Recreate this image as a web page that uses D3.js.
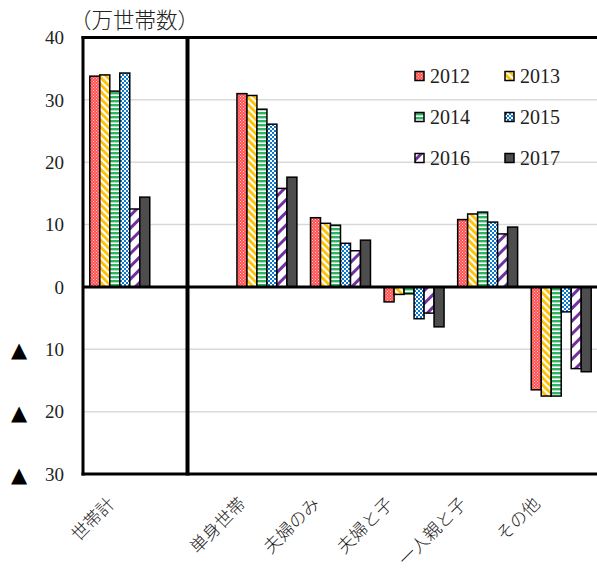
<!DOCTYPE html>
<html>
<head>
<meta charset="utf-8">
<script src="https://cdn.jsdelivr.net/npm/d3@7"></script>
<style>
  html, body { margin: 0; padding: 0; background: #fff; }
  svg { display: block; }
</style>
</head>
<body>
<svg id="chart" width="597" height="579"></svg>
<script>
// Household change by type (10,000 households), 2012-2017
const categories = ["世帯計", "単身世帯", "夫婦のみ", "夫婦と子", "一人親と子", "その他"];
const years = ["2012", "2013", "2014", "2015", "2016", "2017"];
const v2012 = [33.8, 31.0, 11.1, -2.4, 10.8, -16.5];
const v2013 = [34.0, 30.7, 10.2, -1.2, 11.7, -17.5];
const v2014 = [31.4, 28.5, 9.9, -1.1, 12.0, -17.5];
const v2015 = [34.3, 26.1, 7.0, -5.1, 10.4, -4.0];
const v2016 = [12.5, 15.8, 5.8, -4.2, 8.5, -13.1];
const v2017 = [14.4, 17.6, 7.5, -6.4, 9.6, -13.6];
const yTicks = [-30, -20, -10, 0, 10, 20, 30, 40];
const unitLabel = "（万世帯数）";

const series = [v2012, v2013, v2014, v2015, v2016, v2017];

const svg = d3.select("#chart");
const plot = { left: 83, right: 598, top: 37.5, bottom: 474 };

// Category slots: a spacer slot separates the total from the breakdown
const slots = [categories[0], "__spacer", ...categories.slice(1)];
const x = d3.scaleBand().domain(slots).range([plot.left, plot.right]).padding(0);
const groupW = x.step() * 0.815;
const xi = d3.scaleBand().domain(years).range([0, groupW]).padding(0);
const y = d3.scaleLinear().domain([-30, 40]).range([plot.bottom, plot.top]);

// Fill patterns
const defs = svg.append("defs");
function pat(id, w, h, transform) {
  const p = defs.append("pattern").attr("id", id)
    .attr("patternUnits", "userSpaceOnUse").attr("width", w).attr("height", h);
  if (transform) p.attr("patternTransform", transform);
  return p;
}
// 2012: small red check
let p = pat("p2012", 3, 3);
p.append("rect").attr("width", 3).attr("height", 3).attr("fill", "#ff4f4f");
p.append("rect").attr("width", 1).attr("height", 1).attr("fill", "#ffd0d0");
p.append("rect").attr("x", 1.5).attr("y", 1.5).attr("width", 1).attr("height", 1).attr("fill", "#ffd0d0");
// 2013: yellow downward diagonal
p = pat("p2013", 5, 5, "rotate(-45)");
p.append("rect").attr("width", 5).attr("height", 5).attr("fill", "#fff");
p.append("rect").attr("width", 2.8).attr("height", 5).attr("fill", "#ffc000");
// 2014: green horizontal stripes
p = pat("p2014", 4, 4);
p.append("rect").attr("width", 4).attr("height", 4).attr("fill", "#fff");
p.append("rect").attr("width", 4).attr("height", 2.4).attr("fill", "#2fb362");
// 2015: blue checkerboard
p = pat("p2015", 4, 4);
p.append("rect").attr("width", 4).attr("height", 4).attr("fill", "#fff");
p.append("rect").attr("width", 2).attr("height", 2).attr("fill", "#0a78d0");
p.append("rect").attr("x", 2).attr("y", 2).attr("width", 2).attr("height", 2).attr("fill", "#0a78d0");
// 2016: purple wide upward diagonal
p = pat("p2016", 9, 9, "rotate(45)");
p.append("rect").attr("width", 9).attr("height", 9).attr("fill", "#fff");
p.append("rect").attr("width", 3).attr("height", 9).attr("fill", "#7030a0");

const fills = { "2012": "url(#p2012)", "2013": "url(#p2013)", "2014": "url(#p2014)",
  "2015": "url(#p2015)", "2016": "url(#p2016)", "2017": "#4d4d4d" };

// Gridlines
svg.append("g").selectAll("line")
  .data(yTicks.filter(t => t !== 0 && t !== 40 && t !== -30))
  .join("line")
  .attr("x1", plot.left).attr("x2", 597)
  .attr("y1", d => y(d)).attr("y2", d => y(d))
  .attr("stroke", "#d9d9d9").attr("stroke-width", 1.5);

// Y-axis labels (negative values shown with ▲)
const yl = svg.append("g").attr("font-family", "'Liberation Serif', 'DejaVu Serif', serif")
  .attr("font-size", 19).attr("fill", "#222");
yl.selectAll("text.num").data(yTicks).join("text").attr("class", "num")
  .attr("x", 64).attr("y", d => y(d)).attr("dy", "0.35em")
  .attr("text-anchor", "end").text(d => Math.abs(d));
yl.selectAll("text.tri").data(yTicks.filter(d => d < 0)).join("text").attr("class", "tri")
  .attr("x", 11).attr("y", d => y(d)).attr("dy", "0.38em")
  .attr("font-family", "'DejaVu Sans', sans-serif").attr("font-size", 21)
  .attr("fill", "#000").text("▲");

// Bars
const rows = [];
categories.forEach((c, ci) => {
  years.forEach((yr, yi) => rows.push({ cat: c, year: yr, value: series[yi][ci] }));
});
svg.append("g").selectAll("rect").data(rows).join("rect")
  .attr("x", d => x(d.cat) + (x.step() - groupW) / 2 + xi(d.year))
  .attr("width", xi.bandwidth())
  .attr("y", d => y(Math.max(0, d.value)))
  .attr("height", d => Math.abs(y(d.value) - y(0)))
  .attr("fill", d => fills[d.year])
  .attr("stroke", "#000").attr("stroke-width", 1.5);

// Frame, zero line and separator
const frame = svg.append("g").attr("stroke", "#000");
frame.append("line").attr("x1", plot.left).attr("x2", plot.left)
  .attr("y1", plot.top - 1.5).attr("y2", plot.bottom + 1.5).attr("stroke-width", 3);
frame.append("line").attr("x1", plot.left - 1.5).attr("x2", 597)
  .attr("y1", plot.top).attr("y2", plot.top).attr("stroke-width", 3);
frame.append("line").attr("x1", plot.left - 1.5).attr("x2", 597)
  .attr("y1", plot.bottom).attr("y2", plot.bottom).attr("stroke-width", 3);
frame.append("line").attr("x1", plot.left).attr("x2", 597)
  .attr("y1", y(0)).attr("y2", y(0)).attr("stroke-width", 3);
frame.append("line").attr("x1", 187.5).attr("x2", 187.5)
  .attr("y1", plot.top - 1.5).attr("y2", plot.bottom + 1.5).attr("stroke-width", 4);

// Unit label
svg.append("text").attr("x", 70).attr("y", 28)
  .attr("font-family", "'Noto Sans CJK JP', sans-serif").attr("font-size", 21.5)
  .attr("font-weight", 300).attr("fill", "#222").text(unitLabel);

// Category labels, rotated
svg.append("g").selectAll("text").data(categories).join("text")
  .attr("transform", (d, i) => {
    const cx = x(d) + x.step() / 2 + (i === 0 ? -4 : -20);
    return `translate(${cx},${505}) rotate(-45)`;
  })
  .attr("text-anchor", "end")
  .attr("font-family", "'Noto Sans CJK JP', sans-serif").attr("font-size", 17.5)
  .attr("font-weight", 300).attr("fill", "#222").text(d => d);

// Legend
const lg = svg.append("g");
const lgCols = [415, 505], lgRows = [76, 117, 158];
const items = lg.selectAll("g").data(years).join("g")
  .attr("transform", (d, i) => `translate(${lgCols[i % 2]},${lgRows[Math.floor(i / 2)]})`);
items.append("rect").attr("x", 0).attr("y", -4.5).attr("width", 9).attr("height", 9)
  .attr("fill", d => fills[d]).attr("stroke", "#000").attr("stroke-width", 1.5);
items.append("text").attr("x", 15).attr("y", 0).attr("dy", "0.35em")
  .attr("font-family", "'Liberation Serif', 'DejaVu Serif', serif")
  .attr("font-size", 20).attr("fill", "#222").text(d => d);
</script>
</body>
</html>
